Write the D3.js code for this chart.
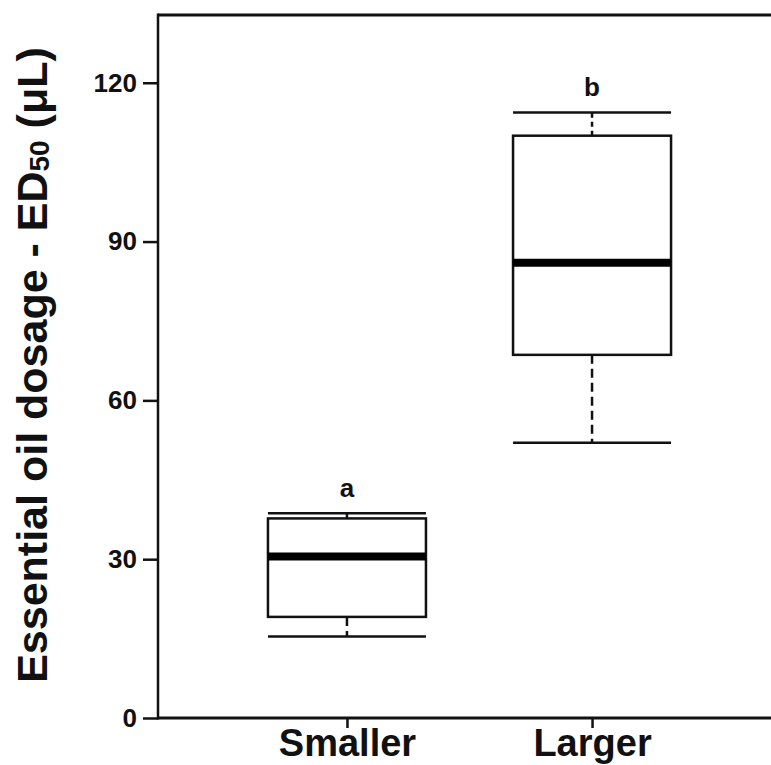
<!DOCTYPE html>
<html>
<head>
<meta charset="utf-8">
<script src="https://cdn.jsdelivr.net/npm/d3@7"></script>
<style>
  html, body { margin: 0; padding: 0; background: #fff; }
  svg { display: block; }
</style>
</head>
<body>
<script>
// ---- data ----
const categories = ["Smaller", "Larger"];
const whiskerLow  = [15.4, 52.0];
const q1          = [19.1, 68.6];
const median      = [30.5, 86.0];
const q3          = [37.7, 110.0];
const whiskerHigh = [38.7, 114.4];
const groupLetters = ["a", "b"];
const yTicks = [0, 30, 60, 90, 120];
const yTitle = "Essential oil dosage - ED";
const yTitleSub = "50";
const yTitleEnd = " (μL)";

// ---- layout ----
const W = 771, H = 765;
const mLeft = 158, mBottom = 718, mTop = 15;
const svg = d3.select("body").append("svg").attr("width", W).attr("height", H);

const y = d3.scaleLinear().domain([0, 132.8]).range([mBottom, mTop]);
const x = d3.scalePoint().domain(categories).range([mLeft, 781]).padding(0.771);
const boxW = 158;

const tickFont = "'Liberation Sans Narrow','Arial Narrow','Liberation Sans',Arial,sans-serif";

// y axis
const yAxis = svg.append("g").attr("transform", `translate(${mLeft},0)`)
  .call(d3.axisLeft(y).tickValues(yTicks).tickSize(15).tickPadding(6).tickFormat(d3.format("d")));
yAxis.select(".domain").remove();
yAxis.selectAll(".tick line").attr("stroke", "#111").attr("stroke-width", 2.5);
yAxis.selectAll(".tick text").attr("fill", "#111")
  .style("font-family", tickFont).style("font-weight", "bold").style("font-size", "26px");

// x axis
const xAxis = svg.append("g").attr("transform", `translate(0,${mBottom})`)
  .call(d3.axisBottom(x).tickSize(10).tickPadding(10));
xAxis.select(".domain").remove();
xAxis.selectAll(".tick line").attr("stroke", "#111").attr("stroke-width", 2.5);
xAxis.selectAll(".tick text").attr("fill", "#111").attr("dy", null).attr("y", 38)
  .style("font-family", "'Liberation Sans',Arial,sans-serif").style("font-weight", "bold").style("font-size", "38px");

// frame: left, top, bottom (no right)
svg.append("line").attr("x1", mLeft).attr("x2", W).attr("y1", mBottom).attr("y2", mBottom)
  .attr("stroke", "#111").attr("stroke-width", 3);
svg.append("line").attr("x1", mLeft).attr("x2", W).attr("y1", mTop).attr("y2", mTop)
  .attr("stroke", "#111").attr("stroke-width", 3);
svg.append("line").attr("x1", mLeft).attr("x2", mLeft).attr("y1", mTop - 1.5).attr("y2", mBottom + 1.5)
  .attr("stroke", "#111").attr("stroke-width", 2.5);

// boxes
const data = categories.map((c, i) => ({c, lo: whiskerLow[i], q1: q1[i], med: median[i], q3: q3[i], hi: whiskerHigh[i], letter: groupLetters[i]}));
const g = svg.selectAll(".box").data(data).enter().append("g")
  .attr("transform", d => `translate(${x(d.c)},0)`);

// whiskers (dashed)
g.append("line").attr("x1", 0).attr("x2", 0).attr("y1", d => y(d.q1)).attr("y2", d => y(d.lo))
  .attr("stroke", "#111").attr("stroke-width", 2.5).attr("stroke-dasharray", "9,5");
g.append("line").attr("x1", 0).attr("x2", 0).attr("y1", d => y(d.q3)).attr("y2", d => y(d.hi))
  .attr("stroke", "#111").attr("stroke-width", 2.5).attr("stroke-dasharray", "5,4");
// caps
g.append("line").attr("x1", -boxW / 2).attr("x2", boxW / 2).attr("y1", d => y(d.lo)).attr("y2", d => y(d.lo))
  .attr("stroke", "#111").attr("stroke-width", 2.5);
g.append("line").attr("x1", -boxW / 2).attr("x2", boxW / 2).attr("y1", d => y(d.hi)).attr("y2", d => y(d.hi))
  .attr("stroke", "#111").attr("stroke-width", 2.5);
// box
g.append("rect").attr("x", -boxW / 2).attr("width", boxW)
  .attr("y", d => y(d.q3)).attr("height", d => y(d.q1) - y(d.q3))
  .attr("fill", "#fff").attr("stroke", "#111").attr("stroke-width", 2.5);
// median
g.append("line").attr("x1", -boxW / 2).attr("x2", boxW / 2).attr("y1", d => y(d.med)).attr("y2", d => y(d.med))
  .attr("stroke", "#000").attr("stroke-width", 8);
// letters
g.append("text").attr("x", 0).attr("y", d => y(d.hi) - 16).attr("text-anchor", "middle")
  .style("font-family", tickFont).style("font-weight", "bold").style("font-size", "26px").attr("fill", "#111")
  .text(d => d.letter);

// y title
const t = svg.append("text").attr("transform", "translate(47,365) rotate(-90)")
  .attr("text-anchor", "middle").attr("fill", "#111")
  .style("font-family", "'Liberation Sans',Arial,sans-serif").style("font-weight", "bold").style("font-size", "43px");
t.append("tspan").text(yTitle);
t.append("tspan").text(yTitleSub).style("font-size", "28px").attr("dy", 2);
t.append("tspan").text(yTitleEnd).attr("dy", -2);
</script>
</body>
</html>
